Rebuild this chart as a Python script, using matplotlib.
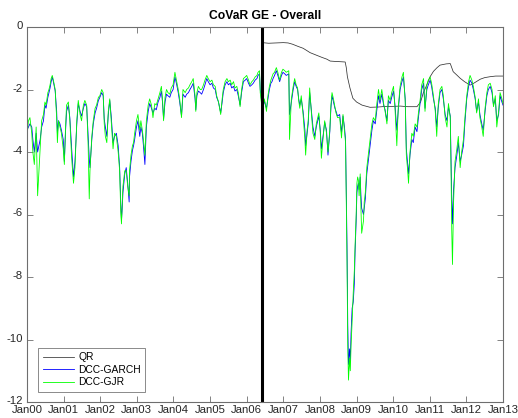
import matplotlib
matplotlib.use("Agg")
import matplotlib.pyplot as plt
import matplotlib.transforms as mtransforms

plt.rcParams['font.family'] = ['Liberation Sans', 'DejaVu Sans']
plt.rcParams['axes.unicode_minus'] = False

# ---- data (time in years since Jan 2000) ----
tick_labels = ["Jan00", "Jan01", "Jan02", "Jan03", "Jan04", "Jan05", "Jan06",
               "Jan07", "Jan08", "Jan09", "Jan10", "Jan11", "Jan12", "Jan13"]
y_ticks = [0, -2, -4, -6, -8, -10, -12]

break_date = 6.42

qr_t = [6.42, 6.60, 6.80, 7.00, 7.13, 7.25, 7.40, 7.54, 7.65, 7.73, 7.90, 8.05, 8.19, 8.28,
        8.40, 8.55, 8.69, 8.72, 8.75, 8.82, 8.90, 9.00, 9.15, 9.37, 9.60, 9.80, 10.00, 10.19,
        10.40, 10.65, 10.75, 10.82, 10.92, 11.01, 11.10, 11.20, 11.28, 11.45, 11.56, 11.60,
        11.64, 11.75, 11.83, 11.95, 12.10, 12.20, 12.38, 12.50, 12.65, 12.80, 13.00]
qr = [-0.50, -0.52, -0.51, -0.50, -0.51, -0.55, -0.62, -0.68, -0.76, -0.82, -0.90, -0.97, -1.03, -1.09,
      -1.10, -1.11, -1.12, -1.30, -1.59, -1.95, -2.28, -2.40, -2.50, -2.57, -2.56, -2.54, -2.54, -2.53,
      -2.55, -2.55, -2.40, -2.12, -1.85, -1.59, -1.42, -1.30, -1.22, -1.18, -1.17, -1.30,
      -1.43, -1.55, -1.64, -1.75, -1.86, -1.80, -1.67, -1.62, -1.59, -1.57, -1.57]

t00 = [0.00, 0.04, 0.08, 0.13, 0.16, 0.20, 0.25, 0.29, 0.36, 0.40, 0.45, 0.49, 0.52, 0.57, 0.60, 0.63, 0.66, 0.69, 0.72, 0.77, 0.79, 0.81, 0.83, 0.86, 0.90, 0.94, 0.99]
g00 = [-3.3, -3.2, -3.1, -3.2, -3.6, -4.0, -3.4, -4.0, -3.6, -3.2, -3.0, -2.5, -2.6, -2.25, -2.1, -1.95, -1.75, -1.6, -1.75, -2.05, -2.4, -2.7, -3.4, -3.0, -3.1, -3.3, -3.6]
j00 = [-3.5, -3.0, -2.9, -3.4, -4.0, -4.4, -3.2, -5.4, -3.9, -3.0, -2.8, -2.4, -2.5, -2.1, -2.0, -1.85, -1.65, -1.55, -1.7, -2.0, -2.5, -2.9, -3.7, -3.0, -3.2, -3.4, -3.9]

t01 = [1.02, 1.05, 1.08, 1.13, 1.17, 1.22, 1.27, 1.31, 1.36, 1.40, 1.45, 1.49, 1.54, 1.58, 1.63, 1.67, 1.70, 1.72, 1.77, 1.81, 1.86, 1.90, 1.95, 1.99]
g01 = [-4.3, -3.4, -2.7, -2.5, -2.9, -3.9, -4.8, -4.3, -3.1, -2.45, -2.7, -2.85, -2.6, -2.45, -2.55, -3.5, -4.2, -4.5, -3.6, -3.1, -2.75, -2.6, -2.35, -2.25]
j01 = [-4.4, -3.3, -2.5, -2.4, -3.0, -4.2, -5.0, -4.5, -3.0, -2.35, -2.8, -3.0, -2.5, -2.35, -2.5, -3.8, -5.5, -4.6, -3.5, -3.0, -2.6, -2.5, -2.25, -2.2]

t02 = [2.04, 2.08, 2.11, 2.14, 2.18, 2.22, 2.26, 2.30, 2.35, 2.39, 2.44, 2.49, 2.53, 2.56, 2.58, 2.60, 2.62, 2.67, 2.71, 2.75, 2.79, 2.80, 2.84, 2.88, 2.91, 2.94, 2.99]
g02 = [-2.1, -2.2, -2.95, -3.2, -3.5, -2.8, -2.35, -2.85, -3.7, -3.5, -3.4, -3.8, -4.5, -5.6, -6.2, -5.8, -5.3, -4.7, -4.5, -5.0, -5.6, -4.8, -4.3, -3.95, -3.8, -3.6, -3.2]
j02 = [-2.0, -2.1, -3.1, -3.5, -3.7, -2.7, -2.3, -3.0, -3.9, -3.4, -3.5, -4.0, -4.6, -5.9, -6.3, -5.7, -5.1, -4.6, -4.6, -5.1, -5.4, -4.6, -4.1, -3.8, -3.7, -3.4, -3.0]

t03 = [3.03, 3.08, 3.11, 3.15, 3.18, 3.22, 3.26, 3.31, 3.35, 3.40, 3.44, 3.49, 3.53, 3.58, 3.63, 3.67, 3.70, 3.73, 3.77, 3.81, 3.85, 3.90, 3.94, 3.99]
g03 = [-3.0, -3.5, -3.2, -3.4, -3.8, -4.4, -3.2, -2.7, -2.45, -2.6, -2.75, -2.6, -2.65, -2.4, -2.25, -2.05, -2.4, -2.95, -2.4, -2.15, -2.2, -2.25, -2.1, -2.0]
j03 = [-2.8, -3.3, -3.0, -3.3, -3.6, -4.1, -3.0, -2.5, -2.3, -2.5, -2.9, -2.45, -2.5, -2.3, -2.1, -1.9, -2.3, -3.0, -2.25, -2.0, -2.1, -2.15, -1.95, -1.85]

t04 = [4.04, 4.08, 4.13, 4.17, 4.22, 4.26, 4.32, 4.36, 4.41, 4.45, 4.50, 4.54, 4.59, 4.61, 4.64, 4.68, 4.73, 4.77, 4.82, 4.86, 4.91, 4.95]
g04 = [-1.6, -1.8, -2.1, -2.4, -2.85, -2.15, -2.25, -2.15, -2.1, -2.0, -1.9, -1.8, -2.3, -2.65, -2.2, -2.05, -2.1, -2.15, -2.0, -1.85, -1.65, -1.75]
j04 = [-1.45, -1.7, -2.0, -2.3, -2.9, -2.0, -2.1, -2.0, -1.95, -1.85, -1.75, -1.65, -2.2, -2.7, -2.1, -1.9, -2.0, -2.0, -1.85, -1.7, -1.55, -1.65]

t05 = [5.00, 5.05, 5.09, 5.14, 5.18, 5.23, 5.29, 5.33, 5.36, 5.41, 5.46, 5.50, 5.55, 5.59, 5.64, 5.68, 5.73, 5.77, 5.82, 5.86, 5.91, 5.96]
g05 = [-1.85, -1.8, -1.95, -2.0, -2.25, -2.4, -2.75, -2.4, -2.1, -1.85, -1.75, -1.85, -1.8, -1.95, -1.9, -2.05, -2.0, -2.2, -2.5, -2.1, -1.75, -1.7]
j05 = [-1.75, -1.7, -1.85, -1.9, -2.2, -2.4, -2.8, -2.3, -2.0, -1.75, -1.65, -1.75, -1.7, -1.85, -1.75, -1.95, -1.9, -2.1, -2.55, -2.0, -1.65, -1.6]

t06 = [6.00, 6.05, 6.09, 6.14, 6.18, 6.23, 6.28, 6.31, 6.35, 6.37, 6.41, 6.44, 6.48, 6.50, 6.54, 6.58, 6.62, 6.66, 6.69, 6.72, 6.76, 6.81, 6.85, 6.90, 6.95, 6.99]
g06 = [-1.65, -1.8, -1.9, -1.85, -1.8, -1.7, -1.65, -1.55, -1.5, -2.0, -2.4, -2.6, -2.35, -2.45, -2.6, -2.3, -2.0, -1.8, -1.75, -1.65, -1.55, -1.4, -1.55, -1.75, -1.55, -1.45]
j06 = [-1.55, -1.7, -1.85, -1.75, -1.7, -1.6, -1.55, -1.45, -1.4, -2.1, -2.5, -2.7, -2.3, -2.4, -2.7, -2.2, -1.9, -1.7, -1.6, -1.5, -1.45, -1.3, -1.45, -1.7, -1.45, -1.35]

t07 = [7.04, 7.08, 7.15, 7.17, 7.22, 7.27, 7.31, 7.35, 7.39, 7.42, 7.45, 7.49, 7.54, 7.59, 7.61, 7.65, 7.68, 7.72, 7.77, 7.81, 7.86, 7.90, 7.97]
g07 = [-1.5, -1.55, -1.5, -2.8, -2.4, -2.0, -1.75, -1.9, -2.0, -2.3, -2.5, -2.3, -2.7, -3.3, -3.8, -3.4, -3.1, -2.1, -2.7, -3.2, -3.5, -3.2, -2.85]
j07 = [-1.4, -1.45, -1.4, -3.6, -2.3, -1.9, -1.65, -1.85, -1.95, -2.35, -2.6, -2.2, -2.8, -3.6, -4.1, -3.3, -3.0, -1.95, -2.8, -3.4, -3.6, -3.1, -2.75]

t08 = [8.01, 8.04, 8.09, 8.13, 8.18, 8.22, 8.27, 8.30, 8.33, 8.37, 8.41, 8.44, 8.48, 8.54, 8.59, 8.63, 8.67, 8.70, 8.72, 8.74, 8.76, 8.78, 8.81, 8.83, 8.85, 8.88, 8.91, 8.94, 8.96, 8.99]
g08 = [-3.3, -3.9, -3.45, -3.05, -3.3, -4.1, -3.35, -2.6, -2.2, -2.4, -2.6, -2.7, -2.85, -2.8, -3.4, -2.85, -3.2, -3.6, -5.2, -7.0, -9.5, -10.8, -10.3, -10.7, -9.8, -9.0, -8.8, -8.2, -7.2, -6.2]
j08 = [-3.4, -4.2, -3.5, -3.0, -3.4, -4.0, -3.3, -2.5, -2.1, -2.3, -2.55, -2.75, -2.9, -2.9, -3.55, -2.8, -3.3, -3.7, -5.5, -7.5, -10.2, -11.3, -10.6, -11.0, -10.2, -9.4, -8.5, -7.8, -7.0, -6.0]

t09 = [9.01, 9.03, 9.05, 9.07, 9.10, 9.12, 9.14, 9.19, 9.21, 9.24, 9.28, 9.33, 9.37, 9.42, 9.46, 9.51, 9.55, 9.60, 9.64, 9.69, 9.74, 9.78, 9.83, 9.87, 9.92, 9.96]
g09 = [-5.3, -5.1, -5.0, -5.2, -4.8, -5.4, -5.8, -6.0, -5.8, -5.5, -4.7, -4.2, -3.8, -3.3, -3.0, -3.1, -2.7, -2.2, -2.45, -2.15, -2.5, -2.65, -3.0, -2.35, -2.45, -2.25]
j09 = [-5.0, -4.8, -4.9, -5.4, -4.7, -5.8, -6.6, -6.2, -5.6, -5.3, -4.5, -4.0, -3.6, -3.1, -2.9, -3.0, -2.5, -2.0, -2.35, -2.0, -2.45, -2.7, -3.1, -2.2, -2.35, -2.1]

t10 = [10.01, 10.05, 10.10, 10.14, 10.19, 10.24, 10.28, 10.33, 10.36, 10.39, 10.42, 10.46, 10.51, 10.55, 10.60, 10.65, 10.69, 10.74, 10.78, 10.83, 10.87, 10.92, 10.96]
g10 = [-2.05, -2.5, -3.3, -2.65, -2.0, -1.75, -1.6, -2.3, -3.9, -4.3, -4.7, -4.1, -3.6, -3.7, -3.2, -3.35, -2.9, -2.4, -2.0, -1.8, -2.6, -2.0, -1.85]
j10 = [-1.9, -2.6, -3.8, -2.55, -1.9, -1.6, -1.45, -2.4, -4.1, -4.5, -5.0, -4.0, -3.4, -3.5, -3.1, -3.2, -2.75, -2.3, -1.85, -1.65, -2.7, -1.85, -1.7]

t11 = [11.01, 11.05, 11.10, 11.15, 11.19, 11.23, 11.28, 11.33, 11.37, 11.42, 11.47, 11.51, 11.56, 11.58, 11.60, 11.62, 11.65, 11.69, 11.74, 11.78, 11.83, 11.87, 11.92, 11.96]
g11 = [-1.7, -1.9, -2.3, -2.6, -3.2, -2.6, -2.1, -2.0, -2.3, -2.8, -3.0, -2.55, -2.85, -4.1, -5.5, -6.3, -5.2, -4.5, -4.1, -3.7, -4.3, -4.1, -3.8, -3.05]
j11 = [-1.6, -1.8, -2.2, -2.7, -3.5, -2.5, -2.0, -1.9, -2.2, -2.9, -3.2, -2.45, -2.9, -4.5, -6.5, -7.6, -5.6, -4.3, -3.9, -3.5, -4.5, -4.0, -3.6, -2.9]

t12 = [12.01, 12.06, 12.10, 12.15, 12.19, 12.24, 12.28, 12.33, 12.37, 12.42, 12.46, 12.51, 12.56, 12.60, 12.65, 12.70, 12.74, 12.79, 12.83, 12.88, 12.92, 12.97, 13.00]
g12 = [-2.3, -1.9, -1.7, -1.8, -2.0, -2.3, -2.7, -2.4, -2.8, -3.1, -3.3, -2.7, -2.2, -2.0, -1.9, -2.1, -2.5, -2.3, -3.0, -2.8, -2.2, -2.4, -2.5]
j12 = [-2.2, -1.75, -1.55, -1.7, -1.9, -2.25, -2.75, -2.3, -2.9, -3.2, -3.5, -2.6, -2.1, -1.85, -1.8, -2.0, -2.55, -2.2, -3.2, -2.7, -2.1, -2.3, -2.45]

t = t00 + t01 + t02 + t03 + t04 + t05 + t06 + t07 + t08 + t09 + t10 + t11 + t12
garch = g00 + g01 + g02 + g03 + g04 + g05 + g06 + g07 + g08 + g09 + g10 + g11 + g12
gjr = j00 + j01 + j02 + j03 + j04 + j05 + j06 + j07 + j08 + j09 + j10 + j11 + j12

# ---- figure ----
fig = plt.figure(figsize=(5.18, 4.18), dpi=100)
ax = fig.add_axes([27 / 518, 16 / 418, 476 / 518, 375 / 418])

ax.plot(qr_t, qr, color='#333333', lw=0.55, label='QR')
ax.plot(t, garch, color='#0000ff', lw=0.6, label='DCC-GARCH')
ax.plot(t, gjr, color='#00ff00', lw=0.6, label='DCC-GJR')
ax.axvline(break_date, color='black', lw=2.2)

ax.set_xlim(0, 13)
ax.set_ylim(-12, 0)
ax.set_xticks(range(len(tick_labels)))
ax.set_xticklabels(tick_labels)
ax.set_yticks(y_ticks)
ax.set_yticklabels([str(v) for v in y_ticks])

spine_col = '#6e6e6e'
for s in ax.spines.values():
    s.set_color(spine_col)
    s.set_linewidth(0.8)
ax.tick_params(direction='in', length=4, width=0.6, color=spine_col,
               top=True, right=True, labelsize=8.2, labelcolor='#262626')
ax.tick_params(axis='x', pad=2.5)
ax.tick_params(axis='y', pad=3)

# nudge y tick labels up slightly (as in the reference, "-12" sits above "Jan00")
offset = mtransforms.ScaledTranslation(0, 2 / 100, fig.dpi_scale_trans)
for lbl in ax.get_yticklabels():
    lbl.set_transform(lbl.get_transform() + offset)

ax.set_title('CoVaR GE - Overall', fontsize=8.7, fontweight='bold', pad=6)

leg = ax.legend(loc='lower left', bbox_to_anchor=(11 / 476, 10 / 375), fontsize=7.4,
                frameon=True, fancybox=False, handlelength=3.1, handletextpad=0.35,
                borderpad=0.45, labelspacing=0.25, borderaxespad=0)
leg.get_frame().set_edgecolor('#555555')
leg.get_frame().set_linewidth(0.6)

fig.savefig('out.png', dpi=100)
